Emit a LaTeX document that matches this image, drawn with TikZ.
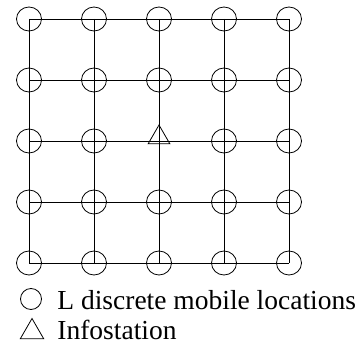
\documentclass[tikz,border=0pt]{standalone}
\usepackage{fontspec}
\setmainfont{Liberation Serif}
\usetikzlibrary{shapes.geometric}

\begin{document}
\begin{tikzpicture}[x=1pt,y=-1pt,line width=0.8pt,
        loc/.style={draw,ellipse,minimum width=25pt,minimum height=24pt,inner sep=0pt},
        infost/.style={draw,regular polygon,regular polygon sides=3,minimum size=25pt,inner sep=0pt},
        keytext/.style={anchor=base west,inner sep=0pt,font=\fontsize{27.5}{31}\selectfont}]
            \useasboundingbox (0,0) rectangle (359,350);

            % mobile locations
            \node[loc] (l11) at (29,19) {};
            \node[loc] (l12) at (94,19) {};
            \node[loc] (l13) at (159,19) {};
            \node[loc] (l14) at (224,19) {};
            \node[loc] (l15) at (289,19) {};
            \node[loc] (l21) at (29,80) {};
            \node[loc] (l22) at (94,80) {};
            \node[loc] (l23) at (159,80) {};
            \node[loc] (l24) at (224,80) {};
            \node[loc] (l25) at (289,80) {};
            \node[loc] (l31) at (29,141) {};
            \node[loc] (l32) at (94,141) {};
            \coordinate (l33) at (159,141);
            \node[loc] (l34) at (224,141) {};
            \node[loc] (l35) at (289,141) {};
            \node[loc] (l41) at (29,202) {};
            \node[loc] (l42) at (94,202) {};
            \node[loc] (l43) at (159,202) {};
            \node[loc] (l44) at (224,202) {};
            \node[loc] (l45) at (289,202) {};
            \node[loc] (l51) at (29,263) {};
            \node[loc] (l52) at (94,263) {};
            \node[loc] (l53) at (159,263) {};
            \node[loc] (l54) at (224,263) {};
            \node[loc] (l55) at (289,263) {};

            % infostation
            \node[infost] (info) at (159,137.5) {};

            % grid
            \draw (l11.center) -- (l15.center);
            \draw (l21.center) -- (l25.center);
            \draw (l31.center) -- (l35.center);
            \draw (l41.center) -- (l45.center);
            \draw (l51.center) -- (l55.center);
            \draw (l11.center) -- (l51.center);
            \draw (l12.center) -- (l52.center);
            \draw (l13.center) -- (l53.center);
            \draw (l14.center) -- (l54.center);
            \draw (l15.center) -- (l55.center);

            % legend
            \node[loc,minimum width=21pt,minimum height=21pt] (keyloc) at (31,299) {};
            \node[keytext] (keyloctext) at (57,309) {L discrete mobile locations};
            \node[infost,minimum size=27pt] (keyinfo) at (32,332) {};
            \node[keytext] (keyinfotext) at (57,339) {Infostation};
        \end{tikzpicture}
\end{document}
